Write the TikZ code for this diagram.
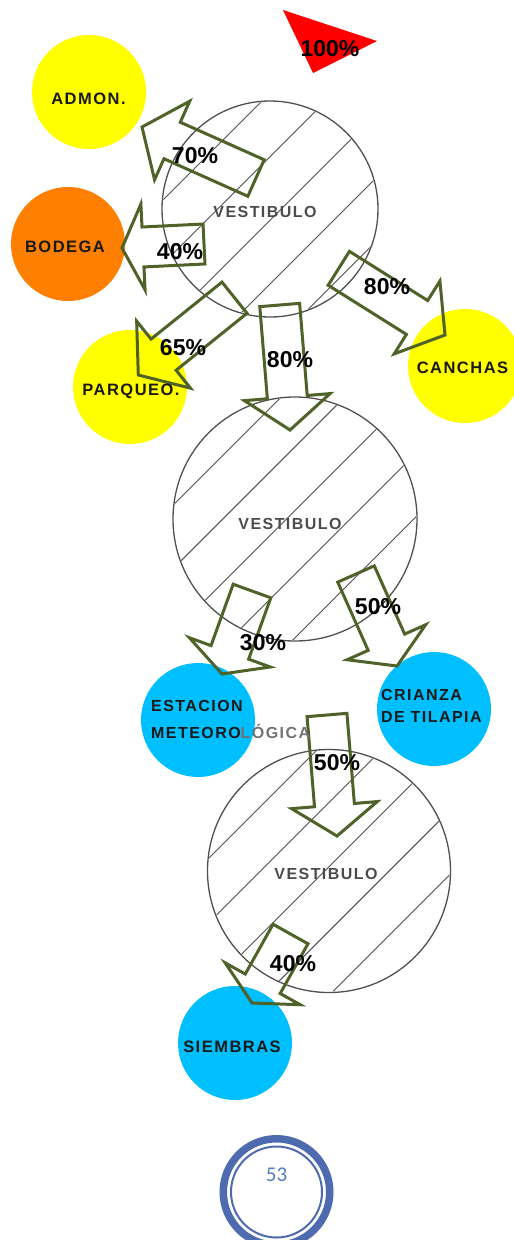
\documentclass[tikz,border=0pt]{standalone}
\usepackage{fontspec}
\setmainfont{Liberation Sans}
\newfontfamily\roomfont[LetterSpace=9]{Liberation Sans}
\newfontfamily\pagefont{Carlito}
\usetikzlibrary{calc}
\definecolor{arrowgreen}{RGB}{79,98,40}
\definecolor{roomyellow}{RGB}{255,255,0}
\definecolor{roomorange}{RGB}{255,128,0}
\definecolor{roomblue}{RGB}{0,191,255}
\definecolor{vestline}{RGB}{80,80,80}
\definecolor{pagering}{RGB}{79,107,176}
\definecolor{pagetext}{RGB}{79,129,189}
\newcommand\blockarrow[3]{%
  \draw[flowarrow] let \p1=($(#2)-(#1)$), \n1={atan2(\y1,\x1)}, \n2={veclen(\x1,\y1)-#3} in
    ($(#1)+(\n1+90:20)$) -- ++(\n1:\n2) -- ++(\n1+90:23) -- (#2)
    -- ($(#1)+(\n1:\n2)+(\n1-90:43)$) -- ++(\n1+90:23) -- ($(#1)+(\n1-90:20)$) -- cycle;}
\newcommand\hatchin[4]{%
  \begin{scope}
    \clip (#1.center) circle (#2);
    \foreach \k in {-4,...,4}{
      \draw[hatchline] ($(#1.center)+(135:{#3+\k*#4})+(45:-170)$) -- ($(#1.center)+(135:{#3+\k*#4})+(45:170)$);
    }
  \end{scope}}
\begin{document}
\begin{tikzpicture}[x=1pt,y=1pt,
  room/.style={circle, inner sep=0pt, minimum size=114pt},
  vest/.style={circle, inner sep=0pt, draw=vestline, line width=1.3pt},
  roomlabel/.style={font={\roomfont\fontsize{16.5}{16.5}\selectfont\bfseries}, text=black!90, inner sep=0pt},
  vestlabel/.style={font={\roomfont\fontsize{16}{16}\selectfont\bfseries}, text=black!70, inner sep=0pt},
  pct/.style={font={\fontsize{23}{23}\selectfont\bfseries}, text=black, inner sep=0pt},
  flowarrow/.style={draw=arrowgreen, line width=3pt, line join=miter},
  hatchline/.style={draw=vestline, line width=0.9pt}
]
\clip (0,0) rectangle (514,-1240);
\fill[white] (0,0) rectangle (514,-1240);

% rooms
\node[room, fill=roomyellow] (admon) at (89,-92) {};
\node[room, fill=roomorange] (bodega) at (68,-244) {};
\node[room, fill=roomyellow] (parqueo) at (130,-387) {};
\node[room, fill=roomyellow] (canchas) at (465,-366) {};
\node[room, fill=roomblue] (estacion) at (198,-720) {};
\node[room, fill=roomblue] (crianza) at (434,-709) {};
\node[room, fill=roomblue] (siembras) at (235,-1043) {};

% vestibules
\node[vest, minimum size=216pt] (v1) at (270,-209) {};
\node[vest, minimum size=244pt] (v2) at (295,-519) {};
\node[vest, minimum size=243pt] (v3) at (329,-871) {};
\hatchin{v1}{107}{-8}{45}
\hatchin{v2}{121}{6}{45}
\hatchin{v3}{120.5}{3}{45.5}

% top marker
\coordinate (ra) at (283,-10);
\coordinate (rb) at (377,-41);
\coordinate (rc) at (313,-73);
\fill[red] (ra) -- (rb) -- (rc) -- cycle;

% arrow end points
\coordinate (t70) at (256,-178);   \coordinate (h70) at (142,-127);
\coordinate (t40a) at (204,-244);  \coordinate (h40a) at (122,-248);
\coordinate (t65) at (234.5,-297.7); \coordinate (h65) at (138.3,-375);
\coordinate (t80a) at (279.7,-305); \coordinate (h80a) at (290,-430);
\coordinate (t80b) at (338.8,-268.3); \coordinate (h80b) at (445,-335);
\coordinate (t30) at (252,-591);   \coordinate (h30) at (222,-674);
\coordinate (t50a) at (356,-574);  \coordinate (h50a) at (397,-666);
\coordinate (t50b) at (327,-715);  \coordinate (h50b) at (337,-836);
\coordinate (t40b) at (290.5,-934); \coordinate (h40b) at (252,-1003);

\blockarrow{t70}{h70}{33}
\blockarrow{t40a}{h40a}{21}
\blockarrow{t65}{h65}{32}
\blockarrow{t80a}{h80a}{33}
\blockarrow{t80b}{h80b}{33}
\blockarrow{t30}{h30}{23}
\blockarrow{t50a}{h50a}{26}
\blockarrow{t50b}{h50b}{31}
\blockarrow{t40b}{h40b}{22}

% labels
\node[roomlabel] (admon-t) at (88.5,-99) {ADMON.};
\node[roomlabel] (bodega-t) at (65,-246.5) {BODEGA};
\node[roomlabel] (parqueo-t) at (131,-391.5) {PARQUEO.};
\node[roomlabel] (canchas-t) at (462.5,-368) {CANCHAS};
\node[roomlabel, anchor=west, align=left, font={\roomfont\fontsize{16}{27}\selectfont\bfseries}] (estacion-t) at (151,-719.5) {ESTACION\\METEORO{\color{black!55}LÓGICA}};
\node[roomlabel, anchor=west, align=left, font={\roomfont\fontsize{16}{22.5}\selectfont\bfseries}] (crianza-t) at (381,-706) {CRIANZA\\DE TILAPIA};
\node[roomlabel] (siembras-t) at (232,-1047) {SIEMBRAS};

\node[vestlabel] (v1-t) at (265,-212) {VESTIBULO};
\node[vestlabel] (v2-t) at (290,-523.5) {VESTIBULO};
\node[vestlabel] (v3-t) at (326,-874) {VESTIBULO};

\node[pct] (p100) at (330,-49) {100\%};
\node[pct] (p70) at (195,-155.5) {70\%};
\node[pct] (p40a) at (180,-252) {40\%};
\node[pct] (p65) at (183,-348) {65\%};
\node[pct] (p80a) at (290,-360) {80\%};
\node[pct] (p80b) at (387,-287) {80\%};
\node[pct] (p30) at (263,-643) {30\%};
\node[pct] (p50a) at (378,-607) {50\%};
\node[pct] (p50b) at (337,-763) {50\%};
\node[pct] (p40b) at (293,-964) {40\%};

% page number
\node[circle, inner sep=0pt, draw=pagering, line width=7.5pt, minimum size=106.5pt] (pgouter) at (276.5,-1192) {};
\node[circle, inner sep=0pt, draw=pagering, line width=2pt, minimum size=91pt] (pginner) at (276.5,-1192) {};
\node[font={\pagefont\fontsize{21}{21}\selectfont}, text=pagetext, inner sep=0pt] (pgnum) at (276.5,-1175) {53};
\end{tikzpicture}
\end{document}
